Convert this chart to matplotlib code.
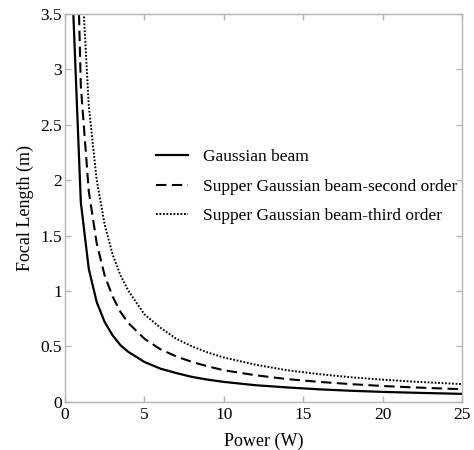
import numpy as np
import matplotlib
matplotlib.use("Agg")
import matplotlib.pyplot as plt

# ── data ──────────────────────────────────────────────────────────────────────
power = [0.5, 1, 1.5, 2, 2.5, 3, 3.5, 4, 5, 6, 7, 8, 9, 10,
         12, 14, 16, 18, 20, 22, 25]
f_gauss = [3.6, 1.8, 1.2, 0.9, 0.72, 0.6, 0.51, 0.45, 0.36, 0.3, 0.26,
           0.225, 0.2, 0.18, 0.15, 0.13, 0.113, 0.1, 0.09, 0.082, 0.072]
f_second = [5.7, 2.85, 1.9, 1.43, 1.14, 0.95, 0.81, 0.71, 0.57, 0.475, 0.41,
            0.36, 0.32, 0.285, 0.24, 0.205, 0.18, 0.16, 0.143, 0.13, 0.114]
f_third = [8.0, 4.0, 2.67, 2.0, 1.6, 1.33, 1.14, 1.0, 0.79, 0.67, 0.57,
           0.5, 0.445, 0.4, 0.335, 0.285, 0.25, 0.222, 0.2, 0.182, 0.16]

labels = ["Gaussian beam",
          "Supper Gaussian beam-second order",
          "Supper Gaussian beam-third order"]
x_ticks = [0, 5, 10, 15, 20, 25]
y_ticks = [0, 0.5, 1, 1.5, 2, 2.5, 3, 3.5]

plt.rcParams["font.family"] = ["Liberation Serif", "DejaVu Serif"]

fig = plt.figure(figsize=(4.74, 4.5), dpi=100)
ax = fig.add_axes([0.137, 0.107, 0.838, 0.862])

ax.plot(power, f_gauss, color="black", lw=1.6, ls="-", label=labels[0])
ax.plot(power, f_second, color="black", lw=1.5, ls=(0, (5, 2.6)), label=labels[1])
ax.plot(power, f_third, color="black", lw=1.4, ls=(0, (0.9, 0.9)), label=labels[2])

ax.set_xlim(0, 25)
ax.set_ylim(0, 3.5)
ax.set_xticks(x_ticks)
ax.set_yticks(y_ticks)
ax.set_xticklabels([str(t) for t in x_ticks])
ax.set_yticklabels(["0", "0.5", "1", "1.5", "2", "2.5", "3", "3.5"])

gray = "#b4b4b4"
for s in ax.spines.values():
    s.set_color(gray)
    s.set_linewidth(1.0)
ax.tick_params(direction="in", length=4, width=1.0, color=gray,
               top=True, right=True, labelsize=12.5, labelcolor="black", pad=2)
ax.tick_params(axis="x", pad=4)

ax.set_xlabel("Power (W)", fontsize=13, labelpad=7)
ax.set_ylabel("Focal Length (m)", fontsize=13, labelpad=5)

ax.legend(loc="upper left", bbox_to_anchor=(0.213, 0.669), frameon=False,
          fontsize=12.5, handlelength=1.8, handletextpad=0.9,
          labelspacing=0.75, borderaxespad=0)

fig.savefig("out.png", dpi=100)
